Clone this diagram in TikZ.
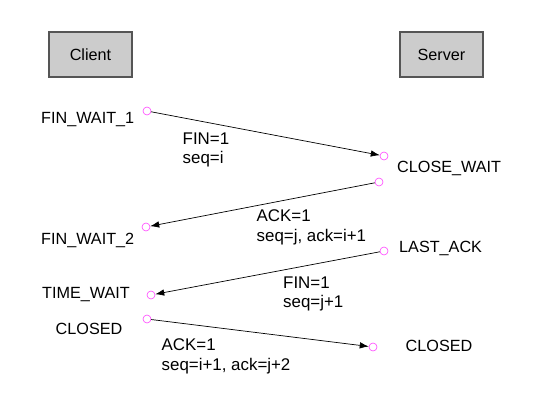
\documentclass[tikz,border=0pt]{standalone}
\usepackage{fontspec}
\setmainfont{Liberation Sans}
\usetikzlibrary{arrows.meta}
\definecolor{boxfill}{HTML}{CCCCCC}
\definecolor{boxline}{HTML}{555555}
\definecolor{dotc}{HTML}{FF44FF}
\tikzset{
  hostbox/.style={draw=boxline, line width=1.3pt, fill=boxfill, minimum width=83pt, minimum height=45pt, inner sep=0pt, font=\fontsize{16.2}{19}\selectfont},
  endpt/.style={circle, draw=dotc, line width=0.6pt, fill=white, minimum size=8pt, inner sep=0pt},
  state/.style={anchor=base west, inner sep=0pt, font=\fontsize{16.2}{19}\selectfont},
  msg/.style={anchor=base west, inner sep=0pt, align=left, font=\fontsize{16.9}{19.3}\selectfont},
  sig/.style={-{Latex[length=9pt,width=6.5pt]}, line width=0.7pt, black},
}
\begin{document}
\begin{tikzpicture}[x=1pt,y=-1pt]
\useasboundingbox (0,0) rectangle (538,401);
\node[hostbox] (client) at (90.5,54.5) {Client};
\node[hostbox] (server) at (441.5,54.5) {Server};

\node[endpt] (c1) at (147,111) {};
\node[endpt] (c2) at (384,156) {};
\node[endpt] (c3) at (379,182) {};
\node[endpt] (c4) at (146,227) {};
\node[endpt] (c5) at (384,251) {};
\node[endpt] (c6) at (151,295) {};
\node[endpt] (c7) at (147,319) {};
\node[endpt] (c8) at (373,347) {};

\draw[sig] (c1) -- (c2);
\draw[sig] (c3) -- (c4);
\draw[sig] (c5) -- (c6);
\draw[sig] (c7) -- (c8);

\node[state] (fw1) at (41,124) {FIN\_WAIT\_1};
\node[state] (fw2) at (41,244) {FIN\_WAIT\_2};
\node[state] (tw) at (42,298) {TIME\_WAIT};
\node[state] (cl1) at (55.5,334) {CLOSED};
\node[state] (cw) at (397,172.7) {CLOSE\_WAIT};
\node[state] (la) at (399,252.7) {LAST\_ACK};
\node[state] (cl2) at (405.5,351) {CLOSED};

\node[msg] (m1) at (182.5,163.6) {FIN=1\\seq=i};
\node[msg] (m2) at (256.5,241) {ACK=1\\seq=j, ack=i+1};
\node[msg] (m3) at (283,307.6) {FIN=1\\seq=j+1};
\node[msg] (m4) at (161.5,370) {ACK=1\\seq=i+1, ack=j+2};
\end{tikzpicture}
\end{document}
